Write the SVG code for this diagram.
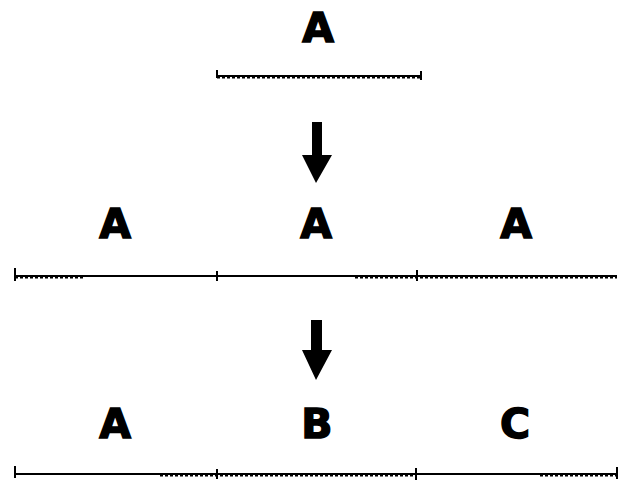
<svg xmlns="http://www.w3.org/2000/svg" width="619" height="480" viewBox="0 0 619 480">
<style>
.lbl{font-family:"DejaVu Sans","Liberation Sans",sans-serif;font-weight:bold;font-size:41px;fill:#000;stroke:#000;stroke-width:1.5;text-anchor:middle}
.seg{stroke:#000;stroke-width:2;fill:none}
.dot{stroke:#000;stroke-width:2;stroke-dasharray:3 2;fill:none}
.tick{stroke:#000;stroke-width:2}
.arr{fill:#000}
</style>
<rect width="619" height="480" fill="#fff"/>
<g id="top">
  <text class="lbl" x="318" y="42">A</text>
  <line class="seg" x1="217" y1="76" x2="421" y2="76"/>
  <line class="dot" x1="217" y1="77.5" x2="421" y2="77.5"/>
  <line class="tick" x1="217" y1="70" x2="217" y2="78"/>
  <line class="tick" x1="421" y1="71" x2="421" y2="80"/>
</g>
<g id="row2">
  <text class="lbl" x="115" y="238">A</text>
  <text class="lbl" x="316" y="238">A</text>
  <text class="lbl" x="516" y="238">A</text>
  <line class="seg" x1="15" y1="276" x2="617" y2="276"/>
  <line class="dot" x1="15" y1="277.5" x2="84" y2="277.5"/>
  <line class="dot" x1="355" y1="277.5" x2="617" y2="277.5"/>
  <line class="tick" x1="15" y1="268" x2="15" y2="281"/>
  <line class="tick" x1="217" y1="271" x2="217" y2="281"/>
  <line class="tick" x1="417" y1="270" x2="417" y2="281"/>
</g>
<g id="row3">
  <text class="lbl" x="115" y="438">A</text>
  <text class="lbl" x="317" y="438">B</text>
  <text class="lbl" x="515" y="438">C</text>
  <line class="seg" x1="15" y1="474" x2="617" y2="474"/>
  <line class="dot" x1="160" y1="475.5" x2="413" y2="475.5"/>
  <line class="dot" x1="540" y1="475.5" x2="617" y2="475.5"/>
  <line class="tick" x1="15" y1="466" x2="15" y2="478"/>
  <line class="tick" x1="217" y1="469" x2="217" y2="479"/>
  <line class="tick" x1="416" y1="468" x2="416" y2="480"/>
  <line class="tick" x1="617" y1="467" x2="617" y2="479"/>
</g>
<g id="connectors">
  <path class="arr" d="M312 122 H322 V155 H332 L316 183 L302 155 H312 Z"/>
  <path class="arr" d="M311 320 H322 V350 H332 L316 380 L302 350 H311 Z"/>
</g>
</svg>
